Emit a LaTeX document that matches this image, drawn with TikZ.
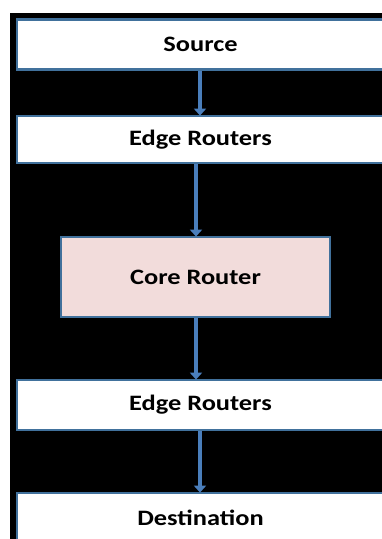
\documentclass[tikz,border=0pt]{standalone}
\usepackage{fontspec}
\setmainfont{Carlito}[FakeStretch=1.2]
\usetikzlibrary{arrows.meta}
\definecolor{frameblue}{HTML}{41719C}
\definecolor{arrowblue}{HTML}{4A7EBB}
\definecolor{corefill}{HTML}{F2DCDB}
\tikzset{
  box/.style={draw=frameblue, line width=2.8pt, fill=white, inner sep=0pt,
              font=\fontsize{22}{24}\selectfont\bfseries, text=black},
  flow/.style={draw=arrowblue, line width=3.6pt,
               -{Triangle[width=12pt,length=7pt]}, shorten >=-1pt}
}
\begin{document}
\begin{tikzpicture}[x=1pt,y=-1pt]
  \clip (0,0) rectangle (382,539);
  \fill[white] (0,0) rectangle (382,539);
  \fill[black] (10,13) rectangle (382,539);

  \node[box, minimum width=367pt, minimum height=50pt] (src) at (200.5,44.5) {Source};
  \node[box, minimum width=367pt, minimum height=47pt] (edgeA) at (200.5,139.5) {Edge Routers};
  \node[box, fill=corefill, minimum width=269pt, minimum height=80pt] (core) at (195.5,277) {Core Router};
  \node[box, minimum width=367pt, minimum height=50pt] (edgeB) at (200.5,405) {Edge Routers};
  \node[box, minimum width=367pt, minimum height=50pt] (dst) at (200.5,518) {Destination};

  \draw[flow] (src.south -| 200,0) -- (edgeA.north -| 200,0);
  \draw[flow] (edgeA.south -| 196,0) -- (core.north -| 196,0);
  \draw[flow] (core.south -| 196,0) -- (edgeB.north -| 196,0);
  \draw[flow] (edgeB.south -| 200,0) -- (dst.north -| 200,0);
\end{tikzpicture}
\end{document}
